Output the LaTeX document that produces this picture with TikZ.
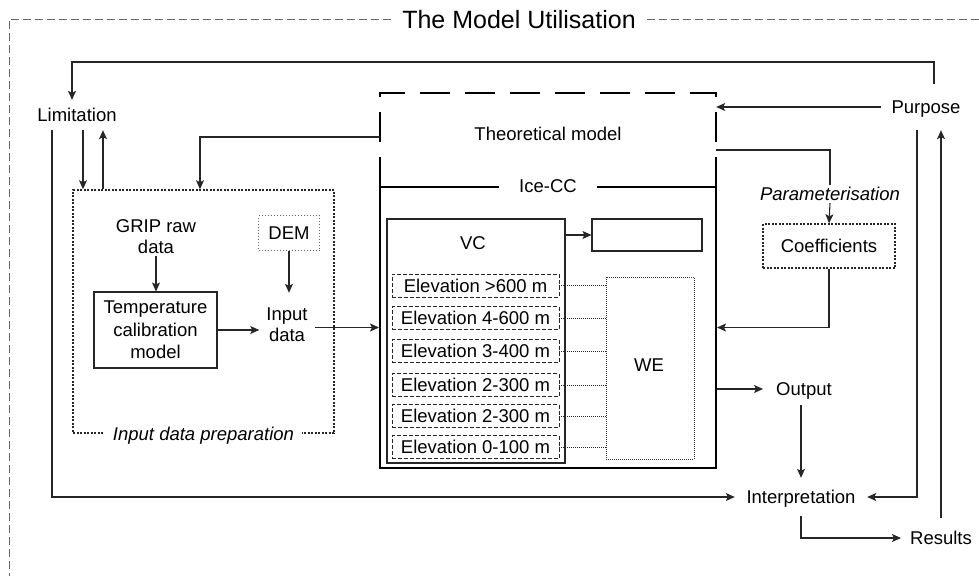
\documentclass[tikz,border=0pt]{standalone}
\usepackage{fontspec}
\setmainfont{Liberation Sans}
\usetikzlibrary{arrows.meta,calc}
\begin{document}
\begin{tikzpicture}[x=1pt,y=-1pt,
  every node/.style={font=\fontsize{18.5}{21}\selectfont, text=black},
  txt/.style={text height=13.3pt, text depth=0pt},
  itx/.style={font=\fontsize{18.5}{21}\selectfont\itshape},
  ln/.style={draw=black!85, line width=1.1pt},
  arr/.style={ln, -{Stealth[length=9pt,width=8pt,inset=2pt]}},
  box/.style={draw=black!85, line width=1.1pt, inner sep=0pt},
  icebox/.style={draw=black, line width=2pt, inner sep=0pt},
  theodash/.style={draw=black, line width=2pt, dash pattern=on 30pt off 15pt},
  frame/.style={draw=black!60, line width=1pt, dash pattern=on 8pt off 4pt},
  prepbox/.style={draw=black!85, line width=1.5pt, dash pattern=on 2pt off 1.5pt, inner sep=0pt},
  dembox/.style={draw=black!60, line width=0.8pt, dash pattern=on 1pt off 2pt, inner sep=0pt},
  webox/.style={draw=black!80, line width=0.8pt, dash pattern=on 1pt off 1pt, inner sep=0pt},
  elev/.style={draw=black!85, line width=0.9pt, dash pattern=on 4pt off 2pt, minimum width=167pt, minimum height=23pt, inner sep=0pt, txt},
  conn/.style={draw=black!85, line width=0.8pt, dash pattern=on 1pt off 1pt}
]
\useasboundingbox (0,0) rectangle (979,576);

% outer frame
\draw[frame] (979,19) -- (9,19) -- (9,576);
\node[fill=white, inner xsep=10pt, inner ysep=2pt, font=\fontsize{25}{30}\selectfont, text height=18pt, text depth=0pt] (title) at (519,19) {The Model Utilisation};

% text nodes
\node[txt, minimum height=30pt, inner ysep=0pt] (lim) at (77,115) {Limitation};
\node[txt, minimum height=46pt, inner ysep=0pt, inner xsep=10pt] (purpose) at (926,107) {Purpose};
\node[txt, minimum height=40pt, inner ysep=0pt, inner xsep=9pt] (results) at (941,538) {Results};
\node[txt, minimum height=38pt, inner ysep=0pt, inner xsep=11.5pt] (interp) at (801,497) {Interpretation};
\node[txt, minimum height=32pt, inner ysep=0pt, inner xsep=13pt] (output) at (804,389) {Output};

% theoretical model
\node[minimum width=336pt, minimum height=94pt, inner sep=0pt] (theo) at (548,140) {};
\draw[theodash] (theo.south west) -- (theo.north west) -- (theo.north east) -- (theo.south east);
\node[txt] (theotext) at (548,134) {Theoretical model};

% Ice-CC
\node[icebox, minimum width=336pt, minimum height=281pt] (ice) at (548,327.5) {};
\node[txt, fill=white, inner xsep=20pt, inner ysep=2pt] (icelabel) at (ice.north) {Ice-CC};

\node[box, minimum width=178pt, minimum height=244pt] (vc) at (476,341) {};
\node[txt] (vctext) at (473,243) {VC};
\node[box, minimum width=110pt, minimum height=32pt] (sbox) at (647,235) {};
\draw[arr] (vc.east |- sbox.west) -- (sbox.west);

\node[elev] (e1) at (475.5,285.5) {Elevation >600 m};
\node[elev] (e2) at (475.5,318) {Elevation 4-600 m};
\node[elev] (e3) at (475.5,351) {Elevation 3-400 m};
\node[elev] (e4) at (475.5,385) {Elevation 2-300 m};
\node[elev] (e5) at (475.5,416) {Elevation 2-300 m};
\node[elev] (e6) at (475.5,447) {Elevation 0-100 m};

\node[webox, minimum width=88pt, minimum height=182pt] (we) at (650,368) {};
\node[txt] (wetext) at (649,365) {WE};
\foreach \i in {1,...,6} \draw[conn] (e\i.east) -- (e\i.east -| we.west);

% input data preparation
\node[prepbox, minimum width=261pt, minimum height=243pt] (idp) at (203.5,311.5) {};
\node[itx, txt, fill=white, inner xsep=8pt, inner ysep=2pt] (idplabel) at (idp.south) {Input data preparation};
\node[align=center, inner ysep=2pt] (grip) at (156,237) {GRIP raw\\data};
\node[box, align=center, minimum width=123pt, minimum height=76pt, font=\fontsize{18.5}{22.5}\selectfont] (tcm) at (155.5,330) {Temperature\\calibration\\model};
\node[align=center, minimum height=64pt, inner xsep=7pt, inner ysep=0pt] (inp) at (287,325) {Input\\data};
\node[dembox, minimum width=61pt, minimum height=35pt, txt] (dem) at (289,233) {DEM};

% parameterisation
\node[itx, txt, minimum height=18pt, inner ysep=0pt] (param) at (830,194) {Parameterisation};
\node[prepbox, minimum width=132pt, minimum height=44pt, txt] (coef) at (829,246) {Coefficients};

% helper coordinates
\coordinate (rail) at (0,62);
\coordinate (limL) at ([xshift=-25pt]lim.south);
\coordinate (limD) at ([xshift=6pt]lim.south);
\coordinate (limU) at ([xshift=26pt]lim.south);
\coordinate (limN) at ([xshift=-5pt]lim.north);
\coordinate (purN) at ([xshift=8pt]purpose.north);
\coordinate (purL) at ([xshift=-9pt]purpose.south);
\coordinate (theoL) at ([yshift=3pt]theo.west);
\coordinate (theoR) at ([yshift=-10pt]theo.east);
\coordinate (idpN) at ([xshift=-3.5pt]idp.north);

% connectors
\draw[arr] (purN) -- (purN |- rail) -| (limN);
\draw[arr] (purpose.west) -- (purpose.west -| theo.east);
\draw[arr] (limD) -- (limD |- idp.north);
\draw[arr] (limU |- idp.north) -- (limU);
\draw[arr] (limL) |- (interp.west);
\draw[arr] (theoL) -| (idpN);
\draw[ln] (theoR) -| (param.north);
\draw[arr] (param.south) -- (coef.north);
\draw[arr] (coef.south) |- (ice.east);
\draw[arr] (grip.south) -- (grip.south |- tcm.north);
\draw[arr] (dem.south) -- (dem.south |- inp.north);
\draw[arr] (tcm.east) -- (tcm.east -| inp.west);
\draw[arr] (ice.west -| inp.east) -- (ice.west);
\draw[arr] (output.west -| ice.east) -- (output.west);
\draw[arr] (output.south -| interp.north) -- (interp.north);
\draw[arr] (purL) |- (interp.east);
\draw[arr] (interp.south) |- (results.west);
\draw[arr] (results.north) -- (results.north |- purpose.south);
\end{tikzpicture}
\end{document}
